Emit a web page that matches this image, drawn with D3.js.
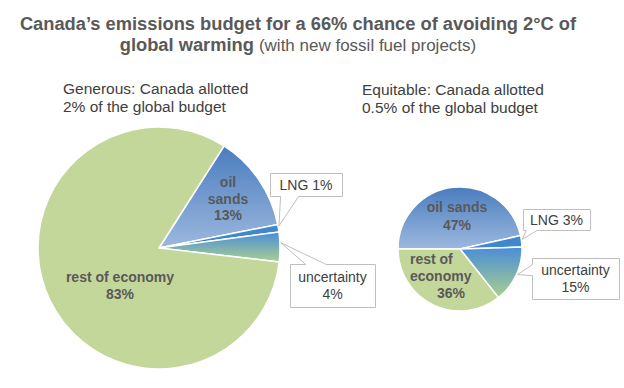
<!DOCTYPE html>
<html lang="en">
<head>
<meta charset="utf-8">
<title>Canada's emissions budget</title>
<script src="https://d3js.org/d3.v7.min.js"></script>
<style>
    body { margin: 0; background: #fff; }
    svg { font-family: "Liberation Sans", Arial, sans-serif; }
    .slice { stroke: #fff; stroke-width: 1.5px; }
    .inlabel { font-size: 14px; font-weight: bold; fill: #595959; }
    .callout path { fill: #fff; stroke: #bfbfbf; stroke-width: 1px; }
    .callout text { font-size: 14px; fill: #404040; }
    .subtitle { font-size: 15.5px; fill: #404040; }
    .title { font-size: 18.3px; font-weight: bold; fill: #595959; }
</style>
</head>
<body>
<script>
// data
const categories = ["oil sands", "LNG", "uncertainty", "rest of economy"];
const generousValues = [13, 1, 4, 83];
const equitableValues = [47, 3, 15, 36];
const scenarioNames = ["Generous: Canada allotted", "Equitable: Canada allotted"];
const scenarioShares = ["2% of the global budget", "0.5% of the global budget"];

const w = 624, h = 388;
const titleX = 298;

const color = d3.scaleOrdinal()
    .domain(categories)
    .range(["url(#g-oil)", "#3f87cf", "url(#g-unc)", "#c4d79b"]);

// layout for each pie (positions only)
const pies = [
    {
        values: generousValues, cx: 159, cy: 248, r: 121, start: 32.5,
        subX: 63, subY: 94,
        inside: {
            "oil sands": { x: 228, y: 187, lh: 16.5, words: ["oil", "sands"], dx: [0, 0, 0], anchor: "middle" },
            "rest of economy": { x: 120, y: 282, lh: 16.5, words: ["rest of economy"], dx: [0, 0], anchor: "middle" }
        },
        callouts: {
            "LNG": { box: [270, 173, 72, 23], side: "bottom", base: [0.14, 0.39], tipAt: 0.2, oneLine: true },
            "uncertainty": { box: [290, 264, 85, 43], side: "top", base: [0.18, 0.42], tipAt: 0.36, oneLine: false }
        }
    },
    {
        values: equitableValues, cx: 460, cy: 249, r: 62, start: -90,
        subX: 362, subY: 95,
        inside: {
            "oil sands": { x: 457, y: 212, lh: 18, words: ["oil sands"], dx: [0, 0], anchor: "middle" },
            "rest of economy": { x: 410, y: 264, lh: 17, words: ["rest of", "economy"], dx: [0, 0, 27], anchor: "start" }
        },
        callouts: {
            "LNG": { box: [523, 209, 67, 21], side: "bottom", base: [0.04, 0.2], tipAt: 0.35, oneLine: true },
            "uncertainty": { box: [532, 258, 87, 41], side: "left", base: [0.15, 0.42], tipAt: 0.48, oneLine: false }
        }
    }
];

const svg = d3.select("body")
    .append("svg")
    .attr("width", w)
    .attr("height", h);

// gradients
const defs = svg.append("defs");
const oilGrad = defs.append("linearGradient").attr("id", "g-oil")
    .attr("x1", 0).attr("y1", 0).attr("x2", 0).attr("y2", 1);
oilGrad.append("stop").attr("offset", "0%").attr("stop-color", "#4a7dbf");
oilGrad.append("stop").attr("offset", "100%").attr("stop-color", "#9cb8de");
const uncGrad = defs.append("linearGradient").attr("id", "g-unc")
    .attr("x1", 0).attr("y1", 0).attr("x2", 0).attr("y2", 1);
uncGrad.append("stop").attr("offset", "0%").attr("stop-color", "#4a8dd8");
uncGrad.append("stop").attr("offset", "100%").attr("stop-color", "#a9d08f");

// title
svg.append("text")
    .attr("class", "title")
    .attr("x", titleX)
    .attr("y", 30)
    .attr("text-anchor", "middle")
    .text("Canada\u2019s emissions budget for a 66% chance of avoiding 2\u00B0C of");

const t2 = svg.append("text")
    .attr("class", "title")
    .attr("x", titleX)
    .attr("y", 51)
    .attr("text-anchor", "middle");
t2.append("tspan").text("global warming ");
t2.append("tspan")
    .attr("font-weight", "normal")
    .attr("font-size", "17px")
    .text("(with new fossil fuel projects)");

function calloutPath(b, side, f, tip) {
    const x = b[0] + 0.5, y = b[1] + 0.5, bw = b[2], bh = b[3];
    const x1 = x + bw, y1 = y + bh;
    if (side === "bottom") {
        const a = x + bw * f[0], c = x + bw * f[1];
        return `M${x},${y}H${x1}V${y1}H${c}L${tip[0]},${tip[1]}L${a},${y1}H${x}Z`;
    }
    if (side === "top") {
        const a = x + bw * f[0], c = x + bw * f[1];
        return `M${x},${y}H${a}L${tip[0]},${tip[1]}L${c},${y}H${x1}V${y1}H${x}Z`;
    }
    const a = y + bh * f[0], c = y + bh * f[1];
    return `M${x},${y}H${x1}V${y1}H${x}V${c}L${tip[0]},${tip[1]}L${x},${a}Z`;
}

pies.forEach((p, i) => {
    // subtitle
    const sub = svg.append("text").attr("class", "subtitle");
    sub.append("tspan").attr("x", p.subX).attr("y", p.subY).text(scenarioNames[i]);
    sub.append("tspan").attr("x", p.subX).attr("y", p.subY + 18).text(scenarioShares[i]);

    const startRad = p.start * Math.PI / 180;
    const pie = d3.pie()
        .sort(null)
        .value(d => d.value)
        .startAngle(startRad)
        .endAngle(startRad + 2 * Math.PI);

    const data = categories.map((c, k) => ({ cat: c, value: p.values[k] }));
    const arcs = pie(data);

    const arc = d3.arc().innerRadius(0).outerRadius(p.r);

    const g = svg.append("g")
        .attr("transform", `translate(${p.cx},${p.cy})`);

    g.selectAll("path")
        .data(arcs)
        .join("path")
        .attr("class", "slice")
        .attr("d", arc)
        .attr("fill", d => color(d.data.cat));

    // labels inside slices
    arcs.forEach(a => {
        const L = p.inside[a.data.cat];
        if (!L) return;
        const lines = L.words.concat([a.data.value + "%"]);
        const txt = svg.append("text")
            .attr("class", "inlabel")
            .attr("text-anchor", L.anchor);
        lines.forEach((s, k) => {
            txt.append("tspan")
                .attr("x", L.x + L.dx[k])
                .attr("y", L.y + k * L.lh)
                .text(s);
        });
    });

    // callouts
    arcs.forEach(a => {
        const C = p.callouts[a.data.cat];
        if (!C) return;
        const ang = a.startAngle + (a.endAngle - a.startAngle) * C.tipAt;
        const tip = [p.cx + Math.sin(ang) * (p.r + 1), p.cy - Math.cos(ang) * (p.r + 1)];
        const cg = svg.append("g").attr("class", "callout");
        cg.append("path").attr("d", calloutPath(C.box, C.side, C.base, tip));
        const lines = C.oneLine ? [a.data.cat + " " + a.data.value + "%"]
                                : [a.data.cat, a.data.value + "%"];
        const cx = C.box[0] + C.box[2] / 2;
        const cy = C.box[1] + C.box[3] / 2;
        const lh = 16.5;
        const top = cy - (lines.length - 1) * lh / 2 + 5;
        const txt = cg.append("text").attr("text-anchor", "middle");
        lines.forEach((s, k) => {
            txt.append("tspan").attr("x", cx).attr("y", top + k * lh).text(s);
        });
    });
});
</script>
</body>
</html>
